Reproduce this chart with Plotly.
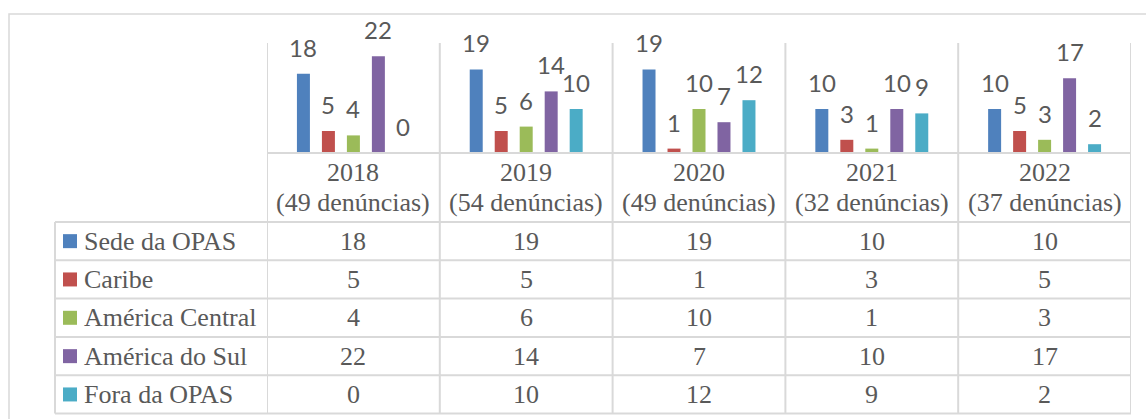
import plotly.graph_objects as go

# ---- data ----
years = ["2018", "2019", "2020", "2021", "2022"]
totals = ["49", "54", "49", "32", "37"]
series_names = ["Sede da OPAS", "Caribe", "América Central", "América do Sul", "Fora da OPAS"]
sede = [18, 19, 19, 10, 10]
caribe = [5, 5, 1, 3, 5]
central = [4, 6, 10, 1, 3]
sul = [22, 14, 7, 10, 17]
fora = [0, 10, 12, 9, 2]
series_values = [sede, caribe, central, sul, fora]
colors = ["#4F81BD", "#C0504D", "#9BBB59", "#8064A2", "#4BACC6"]

W, H = 1146, 419
def X(px):
    return px / W
def Y(py):
    return 1 - py / H

# layout geometry (pixels)
plot_left, plot_right = 267, 1131
plot_top, plot_bottom = 43, 153
table_left = 55
row_lines = [222, 260.3, 298.6, 337, 375.3, 413.6]
grid_col = "#D9D9D9"
txt_col = "#595959"
bargap = 0.277
bargroupgap = 0.48

cat_x = list(range(len(years)))

fig = go.Figure()
for name, vals, col in zip(series_names, series_values, colors):
    fig.add_trace(go.Bar(x=cat_x, y=vals, name=name, marker=dict(color=col, line=dict(width=0)),
                         showlegend=False, hoverinfo="y+name"))

shapes = []
annotations = []

# outer border
shapes.append(dict(type="rect", xref="paper", yref="paper", x0=X(9), y0=Y(425), x1=X(1152), y1=Y(14),
                   line=dict(color=grid_col, width=1.5), layer="below"))

# vertical separators (category boundaries)
for j in range(len(years) + 1):
    shapes.append(dict(type="line", xref="x", yref="paper", x0=j - 0.5, x1=j - 0.5,
                       y0=Y(row_lines[-1]), y1=Y(plot_top), line=dict(color=grid_col, width=2)))
# baseline
shapes.append(dict(type="line", xref="paper", yref="paper", x0=X(plot_left), x1=X(plot_right),
                   y0=Y(plot_bottom), y1=Y(plot_bottom), line=dict(color=grid_col, width=2)))
# table horizontal lines
for ry in row_lines:
    shapes.append(dict(type="line", xref="paper", yref="paper", x0=X(table_left), x1=X(plot_right),
                       y0=Y(ry), y1=Y(ry), line=dict(color=grid_col, width=2)))
# table left border
shapes.append(dict(type="line", xref="paper", yref="paper", x0=X(table_left), x1=X(table_left),
                   y0=Y(row_lines[-1]), y1=Y(row_lines[0]), line=dict(color=grid_col, width=2)))

# data labels above bars
N = len(series_values)
slot = (1 - bargap) / N
for i, vals in enumerate(series_values):
    off = (i - (N - 1) / 2) * slot
    for j, v in enumerate(vals):
        annotations.append(dict(x=j + off, y=v, xref="x", yref="y", text=str(v), showarrow=False,
                                yanchor="bottom", yshift=10,
                                font=dict(family="Lato, Liberation Sans, sans-serif", size=24, color=txt_col)))

serif = "Liberation Serif, Times New Roman, serif"
# category header
for j, (yr, tot) in enumerate(zip(years, totals)):
    annotations.append(dict(x=j, y=Y(172.5), xref="x", yref="paper", text=yr, showarrow=False,
                            yanchor="middle", font=dict(family=serif, size=26, color=txt_col)))
    annotations.append(dict(x=j, y=Y(203), xref="x", yref="paper", text=f"({tot} denúncias)",
                            showarrow=False, yanchor="middle", font=dict(family=serif, size=26, color=txt_col)))

# table rows
for i, (name, vals, col) in enumerate(zip(series_names, series_values, colors)):
    cy = (row_lines[i] + row_lines[i + 1]) / 2
    shapes.append(dict(type="rect", xref="paper", yref="paper", x0=X(63), x1=X(77),
                       y0=Y(cy + 7), y1=Y(cy - 7), fillcolor=col, line=dict(width=0)))
    annotations.append(dict(x=X(82), y=Y(cy), xref="paper", yref="paper", text=name, showarrow=False,
                            xanchor="left", yanchor="middle", font=dict(family=serif, size=26, color=txt_col)))
    for j, v in enumerate(vals):
        annotations.append(dict(x=j, y=Y(cy), xref="x", yref="paper", text=str(v), showarrow=False,
                                yanchor="middle", font=dict(family=serif, size=26, color=txt_col)))

fig.update_layout(
    width=W, height=H,
    margin=dict(l=0, r=0, t=0, b=0),
    paper_bgcolor="white", plot_bgcolor="white",
    barmode="group", bargap=bargap, bargroupgap=bargroupgap,
    xaxis=dict(domain=[X(plot_left), X(plot_right)], range=[-0.5, len(years) - 0.5],
               showticklabels=False, showgrid=False, zeroline=False, showline=False, fixedrange=True),
    yaxis=dict(domain=[Y(plot_bottom), Y(plot_top)], range=[0, 25], showticklabels=False,
               showgrid=False, zeroline=False, showline=False, fixedrange=True),
    shapes=shapes,
    annotations=annotations,
)

fig.write_html("out.html", config={"displayModeBar": False},
               post_script="document.body.style.margin='0';document.body.style.overflow='hidden';")
